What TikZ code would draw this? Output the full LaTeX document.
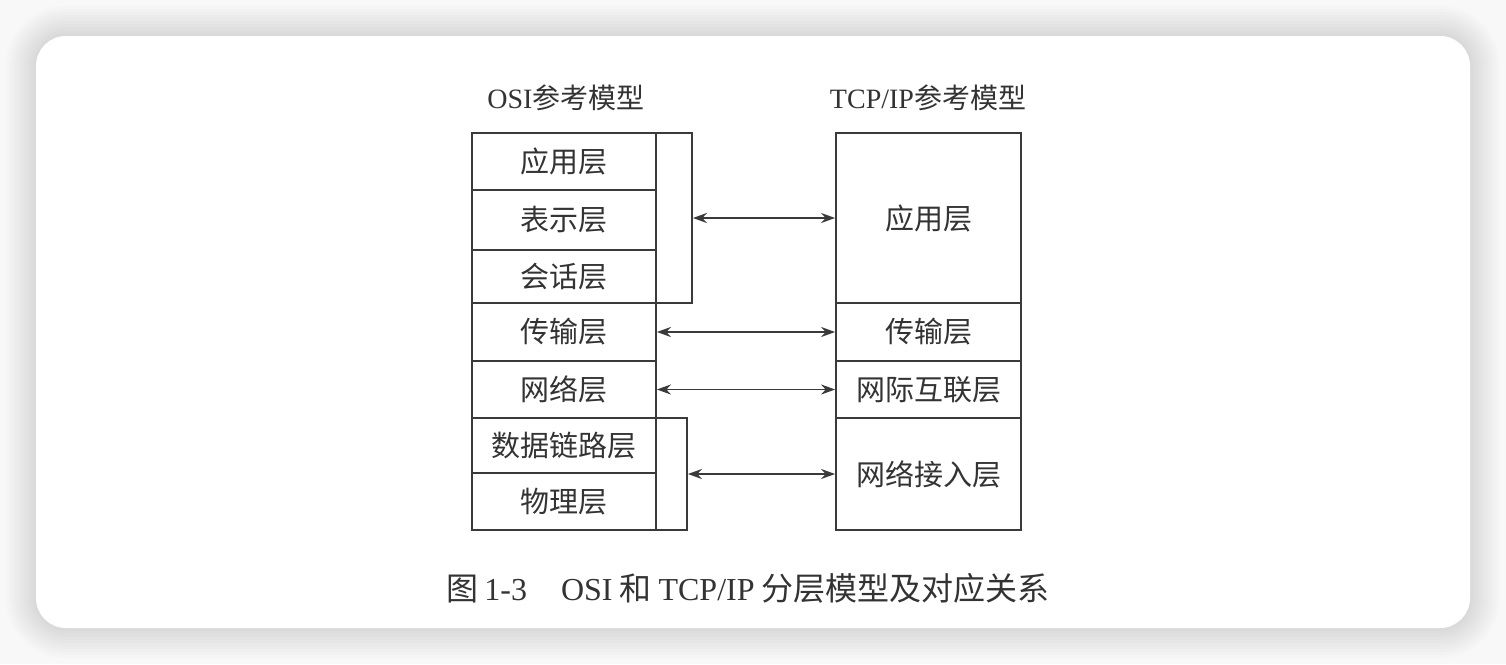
\documentclass[tikz,border=0pt]{standalone}
\usepackage{fontspec}
\setmainfont{Liberation Serif}
\newfontfamily\cjk{Noto Sans CJK SC}
\usetikzlibrary{arrows.meta}

\definecolor{linecol}{HTML}{3A3A3A}
\definecolor{textcol}{HTML}{333333}
\definecolor{bgcol}{HTML}{F8F8F8}

\begin{document}
\begin{tikzpicture}[x=1pt, y=-1pt,
    layer/.style={draw=linecol, line width=1.8pt, rectangle, inner sep=0pt,
        minimum height=#1, text=textcol, font=\cjk\fontsize{29}{29}\selectfont},
    osirow/.style={layer=#1, minimum width=184},
    tcprow/.style={layer=#1, minimum width=185},
    bracket/.style={draw=linecol, line width=1.8pt, rectangle, inner sep=0pt},
    title/.style={text=textcol, font=\fontsize{28}{28}\selectfont},
    link/.style={draw=linecol, line width=1.8pt, {Stealth[length=14pt,width=10pt]}-{Stealth[length=14pt,width=10pt]}},
]
    % Page and card
    \useasboundingbox (0,0) rectangle (1506,664);
    \fill[bgcol] (0,0) rectangle (1506,664);
    \foreach \r in {30,27,...,3}
        \fill[black, opacity=0.013, rounded corners=30+\r]
            (36-\r,36-\r) rectangle (1470+\r,628+\r);
    \fill[white, rounded corners=30] (36,36) rectangle (1470,628);

    % Titles
    \node[title] (osititle) at (566,98) {OSI{\cjk 参考模型}};
    \node[title] (tcptitle) at (928,98) {TCP/IP{\cjk 参考模型}};

    % Brackets grouping OSI layers
    \node[bracket, minimum width=220, minimum height=170] (upper) at (582,218) {};
    \node[bracket, minimum width=215, minimum height=112] (lower) at (579.5,474) {};

    % OSI layers
    \node[osirow=57] (oapp)   at (564,161.5) {应用层};
    \node[osirow=60] (opres)  at (564,220)   {表示层};
    \node[osirow=53] (osess)  at (564,276.5) {会话层};
    \node[osirow=58] (otrans) at (564,332)   {传输层};
    \node[osirow=57] (onet)   at (564,389.5) {网络层};
    \node[osirow=55] (odata)  at (564,445.5) {数据链路层};
    \node[osirow=57] (ophys)  at (564,501.5) {物理层};

    % TCP/IP layers
    \node[tcprow=170] (tapp)   at (928.5,218)   {应用层};
    \node[tcprow=58]  (ttrans) at (928.5,332)   {传输层};
    \node[tcprow=57]  (tnet)   at (928.5,389.5) {网际互联层};
    \node[tcprow=112] (tlink)  at (928.5,474)   {网络接入层};

    % Correspondence
    \draw[link] (upper.east)  -- (tapp.west);
    \draw[link] (otrans.east) -- (ttrans.west);
    \draw[link] (onet.east)   -- (tnet.west);
    \draw[link] (lower.east)  -- (tlink.west);

    % Caption
    \node[text=textcol, font=\fontsize{32}{32}\selectfont] (caption) at (748,588)
        {{\cjk 图}\hspace{6pt}1-3\hspace{34pt}OSI\hspace{7pt}{\cjk 和}\hspace{7pt}TCP/IP\hspace{7pt}{\cjk 分层模型及对应关系}};
\end{tikzpicture}
\end{document}
